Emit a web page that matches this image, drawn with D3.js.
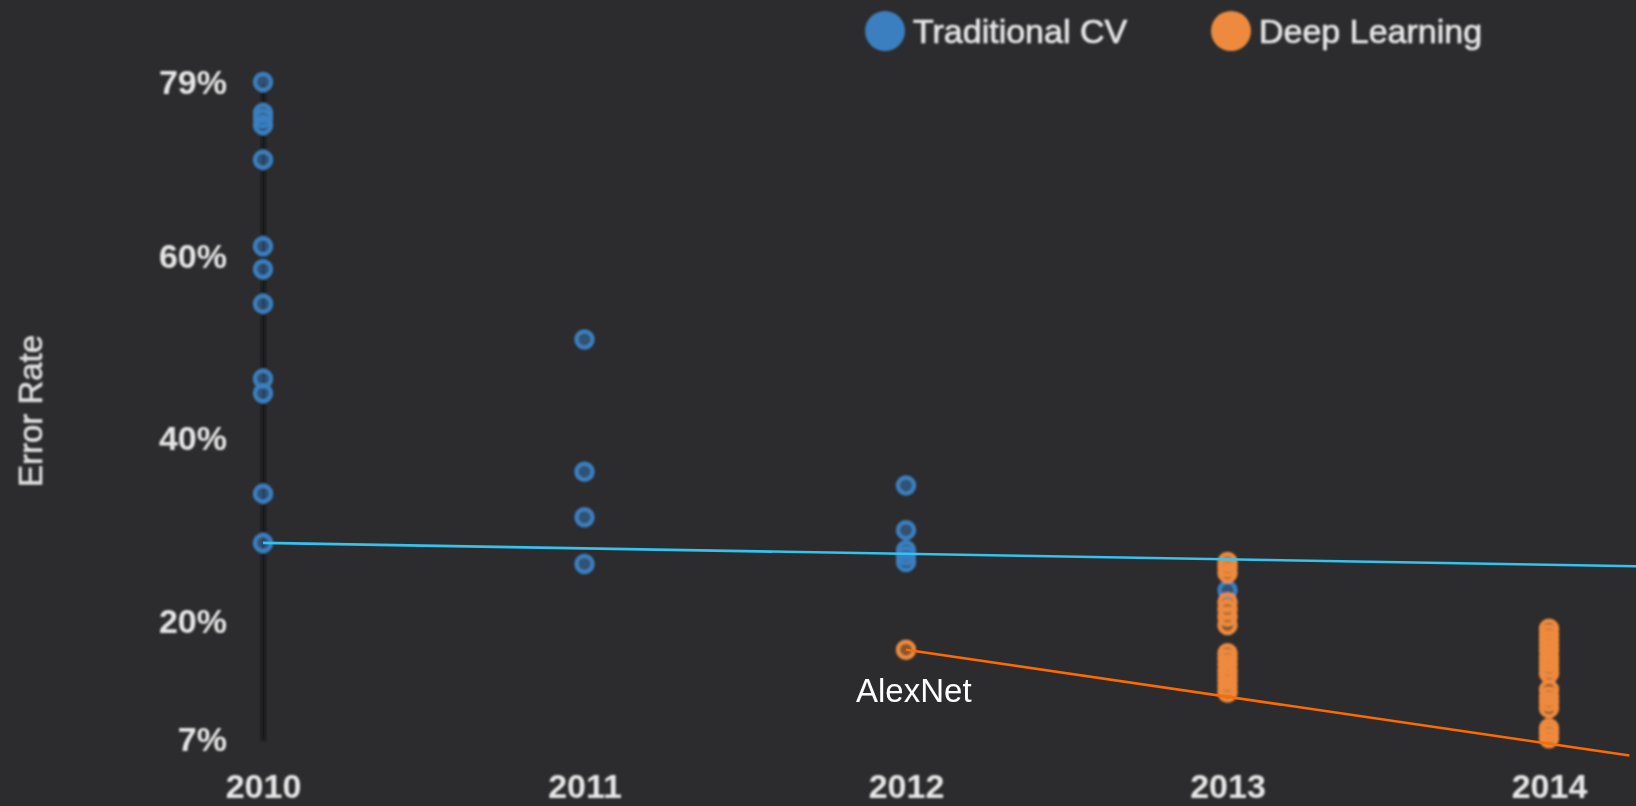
<!DOCTYPE html>
<html>
<head>
<meta charset="utf-8">
<script src="https://cdn.jsdelivr.net/npm/d3@7"></script>
<style>
  body { margin: 0; background: #2c2c2e; overflow: hidden; }
  text { font-family: "Liberation Sans", Arial, Helvetica, sans-serif; }
</style>
</head>
<body>
<script>
//Data (error rates in %)
var years = [2010, 2011, 2012, 2013, 2014];
var yTicks = [7, 20, 40, 60, 79];
var seriesNames = ["Traditional CV", "Deep Learning"];

var cv2010 = [79.1, 75.7, 75.1, 74.4, 70.6, 61.1, 58.6, 54.8, 46.6, 45.0, 34.0, 28.6];
var cv2011 = [50.9, 36.4, 31.4, 26.3];
var cv2012 = [34.9, 30.0, 27.8, 27.2, 26.5];
var cv2013 = [23.4];

var dl2012 = [16.9];
var dl2013 = [26.5, 25.9, 25.3, 22.1, 21.3, 20.5, 19.6, 16.5, 15.9, 15.3, 14.6, 14.1, 13.5, 12.9, 12.2];
var dl2014 = [19.2, 18.6, 18.0, 17.4, 16.8, 16.1, 15.5, 14.9, 14.3, 12.5, 11.8, 11.2, 10.5, 8.3, 7.8, 7.2];

//Trend lines [year, error]
var cvTrend = [[2010, 28.6], [2014.5, 25.9]];
var dlTrend = [[2012, 16.9], [2014.25, 5.3]];
var annotation = { year: 2012, value: 16.9, label: "AlexNet" };

//Width and height
var w = 1636;
var h = 806;

var blue = "#3a7fc0";
var orange = "#ee8a3e";

//Scales
var x = d3.scaleLinear().domain([2010, 2014]).range([263, 1549]);
var y = d3.scaleLinear().domain([7, 79]).range([740, 83]);

//Flatten the per-year lists into points
function toPoints(year, values, series) {
	return values.map(function(v) { return { year: year, value: v, series: series }; });
}
var points = [].concat(
	toPoints(2010, cv2010, 0), toPoints(2011, cv2011, 0),
	toPoints(2012, cv2012, 0), toPoints(2013, cv2013, 0),
	toPoints(2012, dl2012, 1), toPoints(2013, dl2013, 1), toPoints(2014, dl2014, 1)
);

var color = d3.scaleOrdinal().domain([0, 1]).range([blue, orange]);

//Create SVG element
var svg = d3.select("body")
			.append("svg")
			.attr("width", w)
			.attr("height", h);

svg.append("rect").attr("width", w).attr("height", h).attr("fill", "#2c2c2e");

//Soft blur, the source image is an upscaled screenshot
svg.append("defs").append("filter")
	.attr("id", "soft")
	.attr("x", "-5%").attr("y", "-5%").attr("width", "110%").attr("height", "110%")
	.append("feGaussianBlur")
	.attr("stdDeviation", 0.9);

var soft = svg.append("g").attr("filter", "url(#soft)");

//Y axis
var yAxis = soft.append("g")
	.attr("transform", "translate(" + x(2010) + ",0)")
	.call(d3.axisLeft(y).tickValues(yTicks).tickFormat(function(d) { return d + "%"; })
		.tickSize(0).tickPadding(36));
yAxis.select(".domain").attr("stroke", "#141414").attr("stroke-width", 4);
yAxis.selectAll("text")
	.attr("fill", "#e6e6e6")
	.style("font-size", "34px")
	.style("font-weight", "bold");

//X axis
var xAxis = soft.append("g")
	.attr("transform", "translate(0," + y(7) + ")")
	.call(d3.axisBottom(x).tickValues(years).tickFormat(d3.format("d"))
		.tickSize(0).tickPadding(34));
xAxis.select(".domain").remove();
xAxis.selectAll("text")
	.attr("fill", "#e6e6e6")
	.style("font-size", "34px")
	.style("font-weight", "bold");

//Y axis title
soft.append("text")
	.attr("transform", "translate(42,411) rotate(-90)")
	.attr("text-anchor", "middle")
	.attr("fill", "#e0e0e0")
	.attr("stroke", "#e0e0e0")
	.attr("stroke-width", 0.6)
	.style("font-size", "33px")
	.text("Error Rate");

//Dots
soft.selectAll("circle.dot")
	.data(points)
	.enter()
	.append("circle")
	.attr("class", "dot")
	.attr("cx", function(d) { return x(d.year); })
	.attr("cy", function(d) { return y(d.value); })
	.attr("r", 8)
	.attr("fill", function(d) { return color(d.series); })
	.attr("fill-opacity", 0.45)
	.attr("stroke", function(d) { return color(d.series); })
	.attr("stroke-width", 4.5);

//Legend
var legend = soft.selectAll("g.legend")
	.data(seriesNames)
	.enter()
	.append("g")
	.attr("class", "legend")
	.attr("transform", function(d, i) { return "translate(" + (885 + i * 346) + ",31)"; });

legend.append("circle")
	.attr("r", 20)
	.attr("fill", function(d, i) { return color(i); });

legend.append("text")
	.attr("x", 28)
	.attr("y", 12)
	.attr("fill", "#e6e6e6")
	.attr("stroke", "#e6e6e6")
	.attr("stroke-width", 0.7)
	.style("font-size", "34px")
	.text(function(d) { return d; });

//Trend lines (crisp)
var line = d3.line()
	.x(function(d) { return x(d[0]); })
	.y(function(d) { return y(d[1]); });

svg.append("path")
	.datum(cvTrend)
	.attr("d", line)
	.attr("fill", "none")
	.attr("stroke", "#33c3f0")
	.attr("stroke-width", 2.6);

svg.append("path")
	.datum(dlTrend)
	.attr("d", line)
	.attr("fill", "none")
	.attr("stroke", "#ff6a00")
	.attr("stroke-width", 2.6);

//AlexNet label
svg.append("text")
	.attr("x", x(annotation.year) - 50)
	.attr("y", y(annotation.value) + 52)
	.attr("fill", "#ffffff")
	.style("font-size", "33px")
	.text(annotation.label);
</script>
</body>
</html>
